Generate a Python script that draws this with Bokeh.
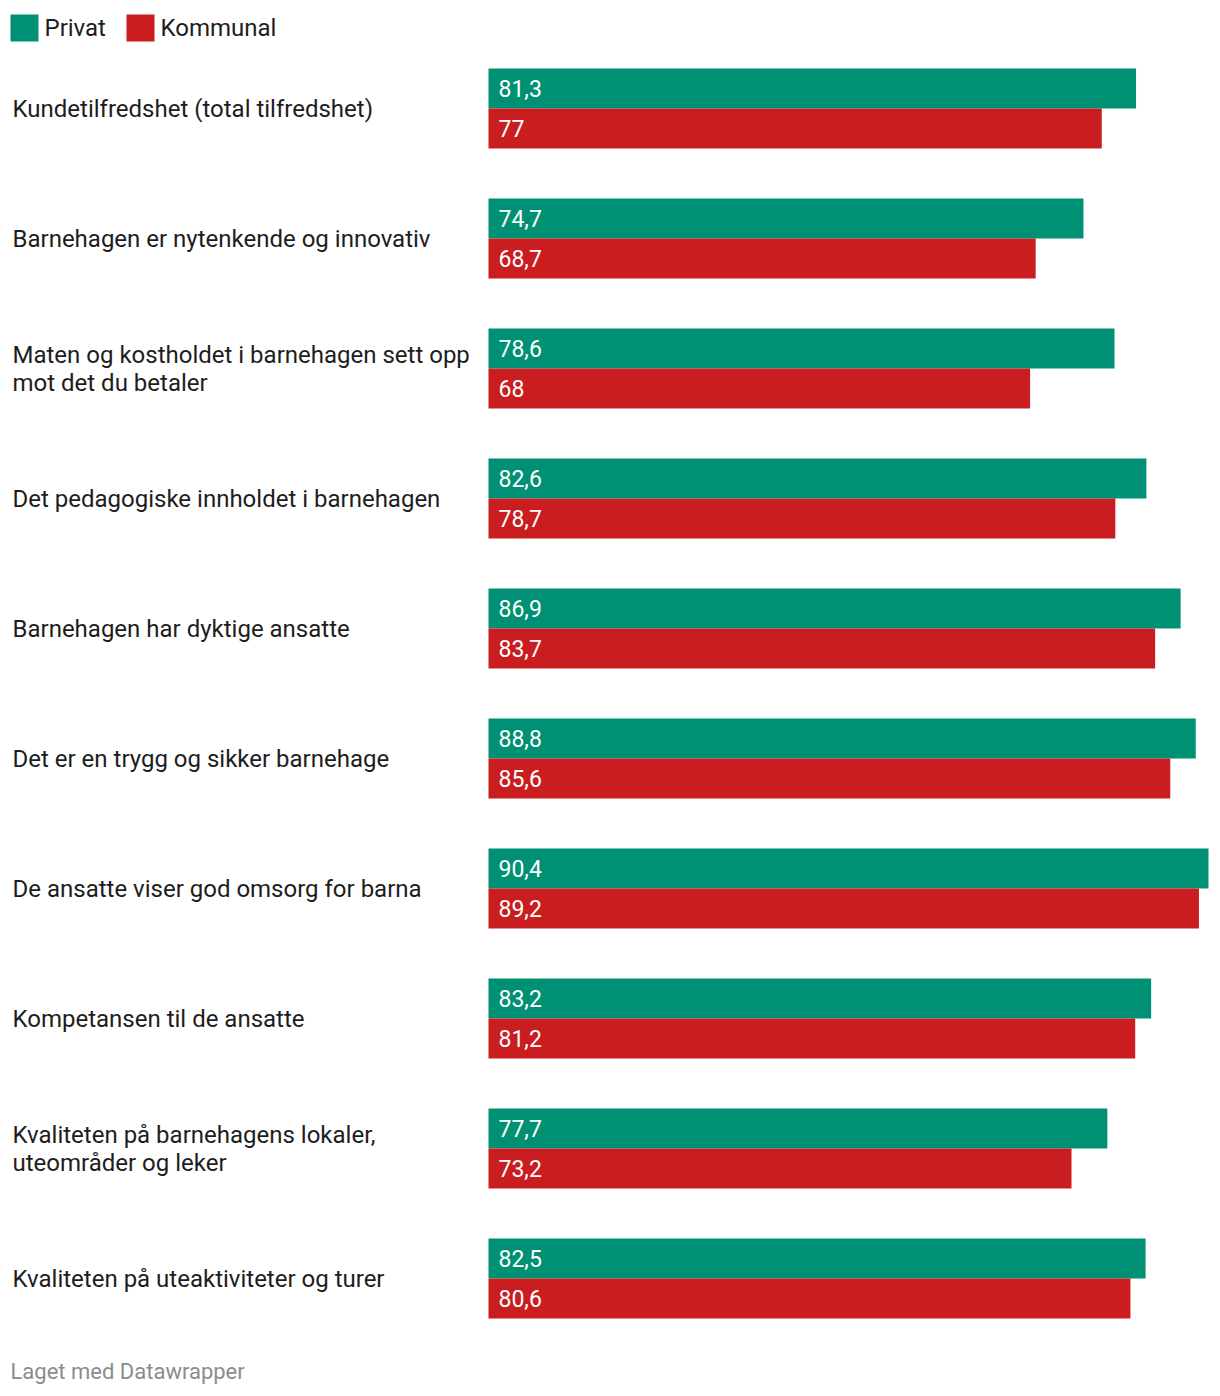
from bokeh.plotting import figure
from bokeh.models import Range1d
from bokeh.core.properties import value
from bokeh.embed import file_html
from bokeh.resources import INLINE

categories = [
    "Kundetilfredshet (total tilfredshet)",
    "Barnehagen er nytenkende og innovativ",
    "Maten og kostholdet i barnehagen sett opp\nmot det du betaler",
    "Det pedagogiske innholdet i barnehagen",
    "Barnehagen har dyktige ansatte",
    "Det er en trygg og sikker barnehage",
    "De ansatte viser god omsorg for barna",
    "Kompetansen til de ansatte",
    "Kvaliteten på barnehagens lokaler,\nuteområder og leker",
    "Kvaliteten på uteaktiviteter og turer",
]
privat = [81.3, 74.7, 78.6, 82.6, 86.9, 88.8, 90.4, 83.2, 77.7, 82.5]
kommunal = [77, 68.7, 68, 78.7, 83.7, 85.6, 89.2, 81.2, 73.2, 80.6]
series_names = ["Privat", "Kommunal"]
colors = ["#009174", "#c91d1f"]
footer = "Laget med Datawrapper"

W, H = 1212, 1388
FONT = value("Roboto")
bar_left_px = 488
bar_span_px = 720
scale = bar_span_px / max(privat)
x_start = -bar_left_px / scale
x_end = x_start + W / scale


def px(x):
    return x_start + x / scale


p = figure(width=W, height=H, output_backend="svg", toolbar_location=None,
           x_range=Range1d(x_start, x_end), y_range=Range1d(H, 0),
           min_border=0, min_border_left=0, min_border_right=0,
           min_border_top=0, min_border_bottom=0)
p.axis.visible = False
p.grid.visible = False
p.outline_line_color = None
p.background_fill_color = "white"
p.border_fill_color = "white"

group_top = 68
group_step = 130
bar_h = 40

for si, (vals, col) in enumerate(zip([privat, kommunal], colors)):
    ys = [group_top + group_step * i + bar_h * si + bar_h / 2 for i in range(len(vals))]
    p.hbar(y=ys, left=0, right=vals, height=bar_h, color=col, line_color=None)
    labels = [("%g" % v).replace(".", ",") for v in vals]
    p.text(x=[px(bar_left_px + 10)] * len(vals), y=ys, text=labels,
           text_font=FONT, text_font_size="23px", text_color="white",
           text_baseline="middle", text_align="left")

cy = [group_top + group_step * i + bar_h for i in range(len(categories))]
p.text(x=[px(12)] * len(categories), y=cy, text=categories,
       text_font=FONT, text_font_size="24px", text_color="#1d1d1d",
       text_baseline="middle", text_align="left", text_line_height=1.0)

# legend
leg_x = [10, 126]
for lx, name, col in zip(leg_x, series_names, colors):
    p.quad(left=[px(lx)], right=[px(lx + 28)], top=[14], bottom=[41],
           color=col, line_color=None)
    p.text(x=[px(lx + 34)], y=[27.5], text=[name], text_font=FONT,
           text_font_size="24px", text_color="#1d1d1d",
           text_baseline="middle", text_align="left")

p.text(x=[px(10)], y=[1371], text=[footer], text_font=FONT,
       text_font_size="22px", text_color="#8c8c8c",
       text_baseline="middle", text_align="left")

open("out.html", "w").write(file_html(p, INLINE))
